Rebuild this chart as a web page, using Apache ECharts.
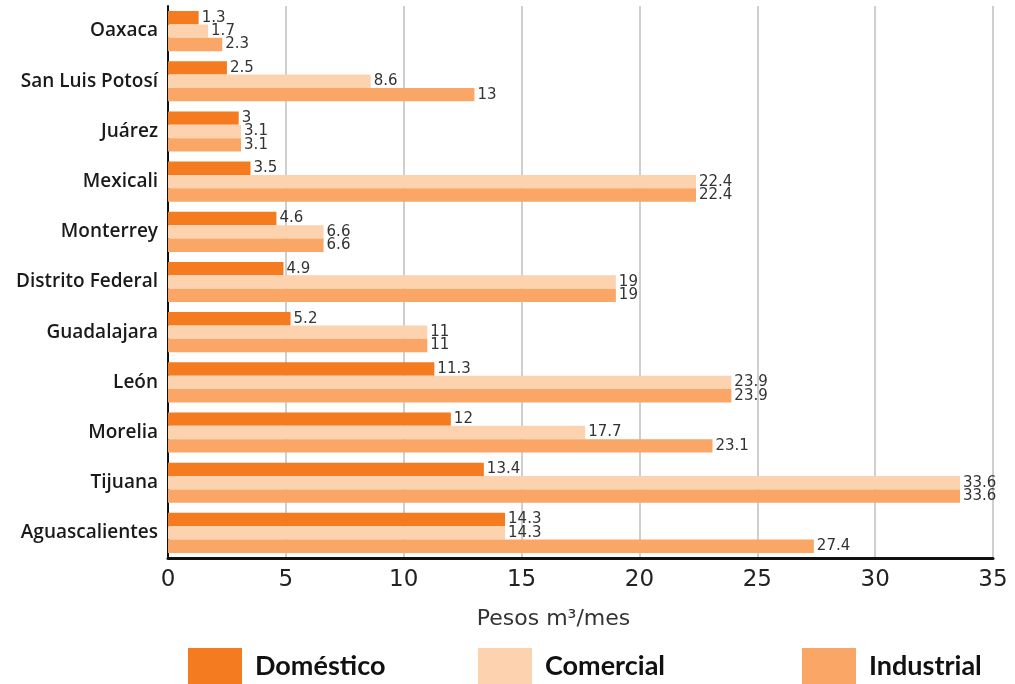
<!DOCTYPE html>
<html>
<head>
<meta charset="utf-8">
<script src="https://cdn.jsdelivr.net/npm/echarts@6/dist/echarts.min.js"></script>
<style>
  html, body { margin: 0; padding: 0; background: #fff; }
  #chart { width: 1015px; height: 684px; }
</style>
</head>
<body>
<div id="chart"></div>
<script>
// Water tariffs by city (pesos per m³ per month)
const cities = ['Oaxaca', 'San Luis Potosí', 'Juárez', 'Mexicali', 'Monterrey',
  'Distrito Federal', 'Guadalajara', 'León', 'Morelia', 'Tijuana', 'Aguascalientes'];
const domestico  = [1.3, 2.5, 3, 3.5, 4.6, 4.9, 5.2, 11.3, 12, 13.4, 14.3];
const comercial  = [1.7, 8.6, 3.1, 22.4, 6.6, 19, 11, 23.9, 17.7, 33.6, 14.3];
const industrial = [2.3, 13, 3.1, 22.4, 6.6, 19, 11, 23.9, 23.1, 33.6, 27.4];
const xTicks = [0, 5, 10, 15, 20, 25, 30, 35];
const seriesNames = ['Doméstico', 'Comercial', 'Industrial'];
const seriesColors = ['#f47b20', '#fdd2ae', '#f9a666'];

const chart = echarts.init(document.getElementById('chart'));

const valueLabel = {
  show: true,
  position: 'right',
  distance: 3,
  fontFamily: 'DejaVu Sans',
  fontSize: 15,
  color: '#333'
};

function makeSeries(name, data, color) {
  return {
    name: name,
    type: 'bar',
    data: data,
    barGap: '0%',
    barCategoryGap: '20%',
    itemStyle: { color: color },
    label: valueLabel,
    emphasis: { disabled: true }
  };
}

function makeLegend(name, left) {
  return {
    data: [name],
    left: left,
    top: 648,
    padding: 0,
    icon: 'rect',
    itemWidth: 54,
    itemHeight: 36,
    textStyle: {
      fontFamily: 'Lato',
      fontWeight: 'bold',
      fontSize: 27,
      color: '#111',
      padding: [0, 0, 0, 8]
    },
    selectedMode: false
  };
}

chart.setOption({
  animation: false,
  grid: { left: 168, right: 22, top: 6, bottom: 126, containLabel: false },
  legend: [
    makeLegend(seriesNames[0], 188),
    makeLegend(seriesNames[1], 478),
    makeLegend(seriesNames[2], 802)
  ],
  xAxis: {
    type: 'value',
    min: xTicks[0],
    max: xTicks[xTicks.length - 1],
    interval: 5,
    name: 'Pesos m³/mes',
    nameLocation: 'middle',
    nameGap: 50,
    nameTextStyle: { fontFamily: 'DejaVu Sans', fontSize: 22, color: '#333', padding: [0, 54, 0, 0] },
    axisLine: { show: true, lineStyle: { color: '#111', width: 3 } },
    axisTick: { show: false },
    axisLabel: { fontFamily: 'DejaVu Sans', fontSize: 23, color: '#222', margin: 11 },
    splitLine: { show: true, lineStyle: { color: '#cfcfcf', width: 2 } }
  },
  yAxis: {
    type: 'category',
    data: cities,
    inverse: true,
    axisLine: { show: true, lineStyle: { color: '#111', width: 2 } },
    axisTick: { show: false },
    axisLabel: { fontFamily: 'Open Sans', fontWeight: 600, fontSize: 19, color: '#1a1a1a', margin: 10 },
    splitLine: { show: false }
  },
  series: [
    makeSeries(seriesNames[0], domestico, seriesColors[0]),
    makeSeries(seriesNames[1], comercial, seriesColors[1]),
    makeSeries(seriesNames[2], industrial, seriesColors[2])
  ]
});
</script>
</body>
</html>
